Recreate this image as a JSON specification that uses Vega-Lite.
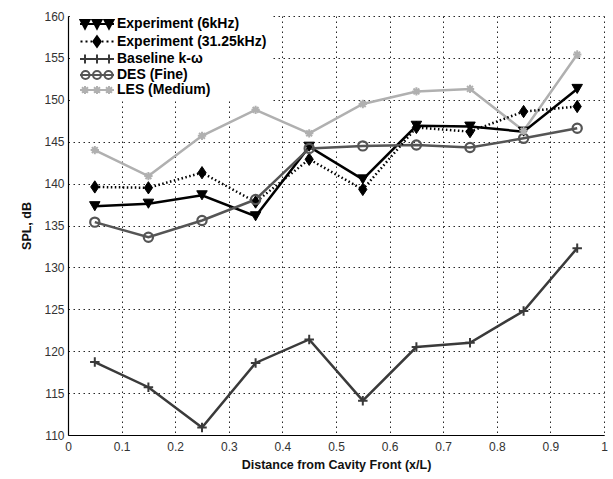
{
  "$schema": "https://vega.github.io/schema/vega-lite/v6.json",
  "width": 536,
  "height": 419,
  "autosize": "none",
  "padding": {"left": 68, "top": 16, "right": 9, "bottom": 44},
  "background": "white",
  "config": {
    "view": {"stroke": null},
    "font": "Liberation Sans",
    "axis": {
      "labelFont": "Liberation Sans",
      "labelFontSize": 12,
      "labelColor": "#333333",
      "titleFont": "Liberation Sans",
      "titleFontSize": 12.5,
      "titleFontWeight": "bold",
      "titleColor": "#111111",
      "grid": true,
      "gridColor": "#000000",
      "gridDash": [1.5, 3.5],
      "gridWidth": 1,
      "gridOpacity": 0.85,
      "domainColor": "#000000",
      "domainWidth": 1.2,
      "ticks": false
    },
    "legend": {
      "orient": "none", "legendX": 4, "legendY": -2,
      "padding": 3, "symbolOffset": 15, "labelOffset": 13,
      "symbolSize": 100, "symbolOpacity": 1, "symbolStrokeWidth": 2,
      "labelFont": "Liberation Sans", "labelFontSize": 14, "labelFontWeight": "bold", "labelColor": "#000000",
      "rowPadding": -1.5, "fillColor": "#ffffff", "labelLimit": 300
    }
  },
  "data": {
    "values": [
      {"series": "Experiment (6kHz)", "x": 0.05, "spl": 137.3},
      {"series": "Experiment (6kHz)", "x": 0.15, "spl": 137.6},
      {"series": "Experiment (6kHz)", "x": 0.25, "spl": 138.6},
      {"series": "Experiment (6kHz)", "x": 0.35, "spl": 136.1},
      {"series": "Experiment (6kHz)", "x": 0.45, "spl": 144.4},
      {"series": "Experiment (6kHz)", "x": 0.55, "spl": 140.5},
      {"series": "Experiment (6kHz)", "x": 0.65, "spl": 146.9},
      {"series": "Experiment (6kHz)", "x": 0.75, "spl": 146.8},
      {"series": "Experiment (6kHz)", "x": 0.85, "spl": 146.2},
      {"series": "Experiment (6kHz)", "x": 0.95, "spl": 151.3},
      {"series": "Experiment (31.25kHz)", "x": 0.05, "spl": 139.6},
      {"series": "Experiment (31.25kHz)", "x": 0.15, "spl": 139.5},
      {"series": "Experiment (31.25kHz)", "x": 0.25, "spl": 141.3},
      {"series": "Experiment (31.25kHz)", "x": 0.35, "spl": 137.8},
      {"series": "Experiment (31.25kHz)", "x": 0.45, "spl": 142.9},
      {"series": "Experiment (31.25kHz)", "x": 0.55, "spl": 139.3},
      {"series": "Experiment (31.25kHz)", "x": 0.65, "spl": 146.7},
      {"series": "Experiment (31.25kHz)", "x": 0.75, "spl": 146.2},
      {"series": "Experiment (31.25kHz)", "x": 0.85, "spl": 148.6},
      {"series": "Experiment (31.25kHz)", "x": 0.95, "spl": 149.2},
      {"series": "Baseline k-ω", "x": 0.05, "spl": 118.7},
      {"series": "Baseline k-ω", "x": 0.15, "spl": 115.7},
      {"series": "Baseline k-ω", "x": 0.25, "spl": 110.9},
      {"series": "Baseline k-ω", "x": 0.35, "spl": 118.6},
      {"series": "Baseline k-ω", "x": 0.45, "spl": 121.4},
      {"series": "Baseline k-ω", "x": 0.55, "spl": 114.1},
      {"series": "Baseline k-ω", "x": 0.65, "spl": 120.5},
      {"series": "Baseline k-ω", "x": 0.75, "spl": 121.0},
      {"series": "Baseline k-ω", "x": 0.85, "spl": 124.8},
      {"series": "Baseline k-ω", "x": 0.95, "spl": 132.3},
      {"series": "DES (Fine)", "x": 0.05, "spl": 135.4},
      {"series": "DES (Fine)", "x": 0.15, "spl": 133.6},
      {"series": "DES (Fine)", "x": 0.25, "spl": 135.6},
      {"series": "DES (Fine)", "x": 0.35, "spl": 138.1},
      {"series": "DES (Fine)", "x": 0.45, "spl": 144.2},
      {"series": "DES (Fine)", "x": 0.55, "spl": 144.5},
      {"series": "DES (Fine)", "x": 0.65, "spl": 144.6},
      {"series": "DES (Fine)", "x": 0.75, "spl": 144.3},
      {"series": "DES (Fine)", "x": 0.85, "spl": 145.4},
      {"series": "DES (Fine)", "x": 0.95, "spl": 146.6},
      {"series": "LES (Medium)", "x": 0.05, "spl": 144.0},
      {"series": "LES (Medium)", "x": 0.15, "spl": 140.9},
      {"series": "LES (Medium)", "x": 0.25, "spl": 145.7},
      {"series": "LES (Medium)", "x": 0.35, "spl": 148.8},
      {"series": "LES (Medium)", "x": 0.45, "spl": 146.0},
      {"series": "LES (Medium)", "x": 0.55, "spl": 149.5},
      {"series": "LES (Medium)", "x": 0.65, "spl": 151.0},
      {"series": "LES (Medium)", "x": 0.75, "spl": 151.3},
      {"series": "LES (Medium)", "x": 0.85, "spl": 146.3},
      {"series": "LES (Medium)", "x": 0.95, "spl": 155.4}
    ]
  },
  "encoding": {
    "x": {
      "field": "x", "type": "quantitative",
      "scale": {"domain": [0, 1], "nice": false, "zero": false},
      "axis": {"values": [0, 0.1, 0.2, 0.3, 0.4, 0.5, 0.6, 0.7, 0.8, 0.9, 1], "format": "~g", "title": "Distance from Cavity Front (x/L)", "labelPadding": 6, "titlePadding": 6, "labelFlush": false}
    },
    "y": {
      "field": "spl", "type": "quantitative",
      "scale": {"domain": [110, 160], "nice": false, "zero": false},
      "axis": {"values": [110, 115, 120, 125, 130, 135, 140, 145, 150, 155, 160], "title": "SPL, dB", "labelPadding": 4, "titlePadding": 10}
    }
  },
  "layer": [
    {
      "transform": [{"filter": "datum.series !== 'Experiment (31.25kHz)'"}],
      "mark": {"type": "line", "strokeWidth": 2.5},
      "encoding": {
        "stroke": {
          "field": "series", "type": "nominal",
          "scale": {"domain": ["Experiment (6kHz)", "Experiment (31.25kHz)", "Baseline k-ω", "DES (Fine)", "LES (Medium)"],
                    "range": ["#000000", "#000000", "#3a3a3a", "#555555", "#b0b0b0"]}
        }
      }
    },
    {
      "transform": [{"filter": "datum.series === 'Experiment (31.25kHz)'"}],
      "mark": {"type": "line", "strokeWidth": 2.5, "stroke": "#000000", "strokeDash": [1.5, 2.5]}
    },
    {
      "transform": [{"filter": "datum.series === 'Experiment (6kHz)'"}],
      "mark": {"type": "point", "shape": "triangle-down", "filled": true, "fill": "#000000", "stroke": "#000000", "strokeWidth": 1, "size": 110, "opacity": 1}
    },
    {
      "transform": [{"filter": "datum.series === 'Experiment (31.25kHz)'"}],
      "mark": {"type": "point", "shape": "M0,-1.2L0.8,0L0,1.2L-0.8,0Z", "filled": true, "fill": "#000000", "stroke": "#000000", "strokeWidth": 1, "size": 105, "opacity": 1}
    },
    {
      "transform": [{"filter": "datum.series === 'Baseline k-ω'"}],
      "mark": {"type": "point", "shape": "M-1,0H1M0,-1V1", "filled": false, "stroke": "#3a3a3a", "strokeWidth": 2, "size": 90, "opacity": 1}
    },
    {
      "transform": [{"filter": "datum.series === 'DES (Fine)'"}],
      "mark": {"type": "point", "shape": "circle", "filled": false, "stroke": "#555555", "strokeWidth": 2.2, "size": 85, "opacity": 1}
    },
    {
      "transform": [{"filter": "datum.series === 'LES (Medium)'"}],
      "mark": {"type": "point", "shape": "M-1,0H1M0,-1V1M-0.7,-0.7L0.7,0.7M-0.7,0.7L0.7,-0.7", "filled": false, "stroke": "#b0b0b0", "strokeWidth": 2, "size": 70, "opacity": 1}
    },
    {
      "mark": {"type": "point", "opacity": 0, "strokeWidth": 2},
      "encoding": {
        "shape": {
          "field": "series", "type": "nominal", "title": null,
          "scale": {"domain": ["Experiment (6kHz)", "Experiment (31.25kHz)", "Baseline k-ω", "DES (Fine)", "LES (Medium)"],
                    "range": [
                      "M-3.4,0H3.4M-3.3,-0.8H-1.5L-2.4,0.9ZM-0.9,-0.8H0.9L0,0.9ZM1.5,-0.8H3.3L2.4,0.9Z",
                      "M-3.3,0H-2.9M-2.3,0H-1.9M-1.3,0H-1M1,0H1.3M1.9,0H2.3M2.9,0H3.3M0,-1.05L0.75,0L0,1.05L-0.75,0Z",
                      "M-3.4,0H3.4M-2.4,-0.9V0.9M0,-0.9V0.9M2.4,-0.9V0.9",
                      "M-3.4,0H3.4M-1.5,0A0.8,0.8,0,1,0,-3.1,0A0.8,0.8,0,1,0,-1.5,0M0.8,0A0.8,0.8,0,1,0,-0.8,0A0.8,0.8,0,1,0,0.8,0M3.1,0A0.8,0.8,0,1,0,1.5,0A0.8,0.8,0,1,0,3.1,0",
                      "M-3.4,0H3.4M-2.4,-0.8V0.8M-3,-0.55L-1.8,0.55M-3,0.55L-1.8,-0.55M0,-0.8V0.8M-0.6,-0.55L0.6,0.55M-0.6,0.55L0.6,-0.55M2.4,-0.8V0.8M1.8,-0.55L3,0.55M1.8,0.55L3,-0.55"
                    ]}
        },
        "fill": {
          "field": "series", "type": "nominal", "title": null,
          "scale": {"domain": ["Experiment (6kHz)", "Experiment (31.25kHz)", "Baseline k-ω", "DES (Fine)", "LES (Medium)"],
                    "range": ["#000000", "#000000", "transparent", "transparent", "transparent"]}
        },
        "stroke": {
          "field": "series", "type": "nominal", "title": null
        }
      }
    }
  ]
}
